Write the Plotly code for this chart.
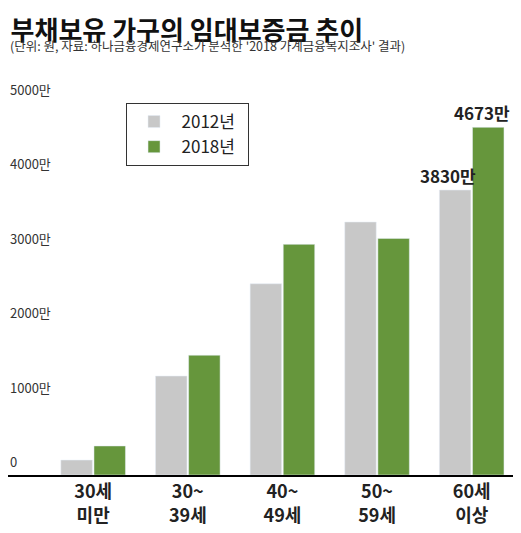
import plotly.graph_objects as go

categories = ["30세<br>미만", "30~<br>39세", "40~<br>49세", "50~<br>59세", "60세<br>이상"]
v2012 = [200, 1330, 2570, 3400, 3830]
v2018 = [390, 1610, 3100, 3180, 4673]
ytick_vals = [0, 1000, 2000, 3000, 4000, 5000]
ytick_text = ["0", "1000만", "2000만", "3000만", "4000만", "5000만"]

fig = go.Figure()
fig.add_bar(x=categories, y=v2012, name="2012년  ", marker_color="#c8c8c8")
fig.add_bar(x=categories, y=v2018, name="2018년  ", marker_color="#66963c")

for t, v in zip(ytick_text, ytick_vals):
    fig.add_annotation(x=0, xref="paper", y=v, yref="y", text=t, showarrow=False,
                       xanchor="left", yanchor="bottom", yshift=2,
                       font=dict(size=13, color="#333", family="Noto Sans CJK KR"))

fig.add_annotation(x=4, y=v2012[4], text="<b>3830만</b>", showarrow=False, xshift=-24, yanchor="bottom",
                   font=dict(size=17, color="#222", family="Noto Sans CJK KR"))
fig.add_annotation(x=4, y=v2018[4], text="<b>4673만</b>", showarrow=False, xshift=10, yanchor="bottom",
                   font=dict(size=17, color="#222", family="Noto Sans CJK KR"))

fig.update_layout(
    width=521, height=533, plot_bgcolor="white", paper_bgcolor="white",
    margin=dict(l=0, r=10, t=95, b=66),
    barmode="group", bargap=0.3, bargroupgap=0.05,
    font=dict(family="Noto Sans CJK KR", color="#222"),
    title=dict(text="<b>부채보유 가구의 임대보증금 추이</b>", x=0.005, y=0.975, yanchor="top",
               font=dict(size=26, color="#111")),
    legend=dict(x=0.23, y=1.0, xanchor="left", yanchor="top", bordercolor="#333", borderwidth=1,
                font=dict(size=17), itemwidth=45, tracegroupgap=8),
    xaxis=dict(showline=True, linecolor="black", linewidth=1.5, ticks="",
               tickfont=dict(size=18, color="#222"), range=[-0.9, 4.5],
               ticktext=["<b>"+c+"</b>" for c in categories], tickvals=categories),
    yaxis=dict(range=[0, 5000], showticklabels=False, showgrid=False, zeroline=False),
)
fig.add_annotation(x=0.0, xref="paper", y=1.185, yref="paper", showarrow=False, xanchor="left",
                   text="(단위: 원, 자료: 하나금융경제연구소가 분석한 '2018 가계금융복지조사' 결과)",
                   font=dict(size=12.5, color="#333"))
fig.write_html("out.html")
